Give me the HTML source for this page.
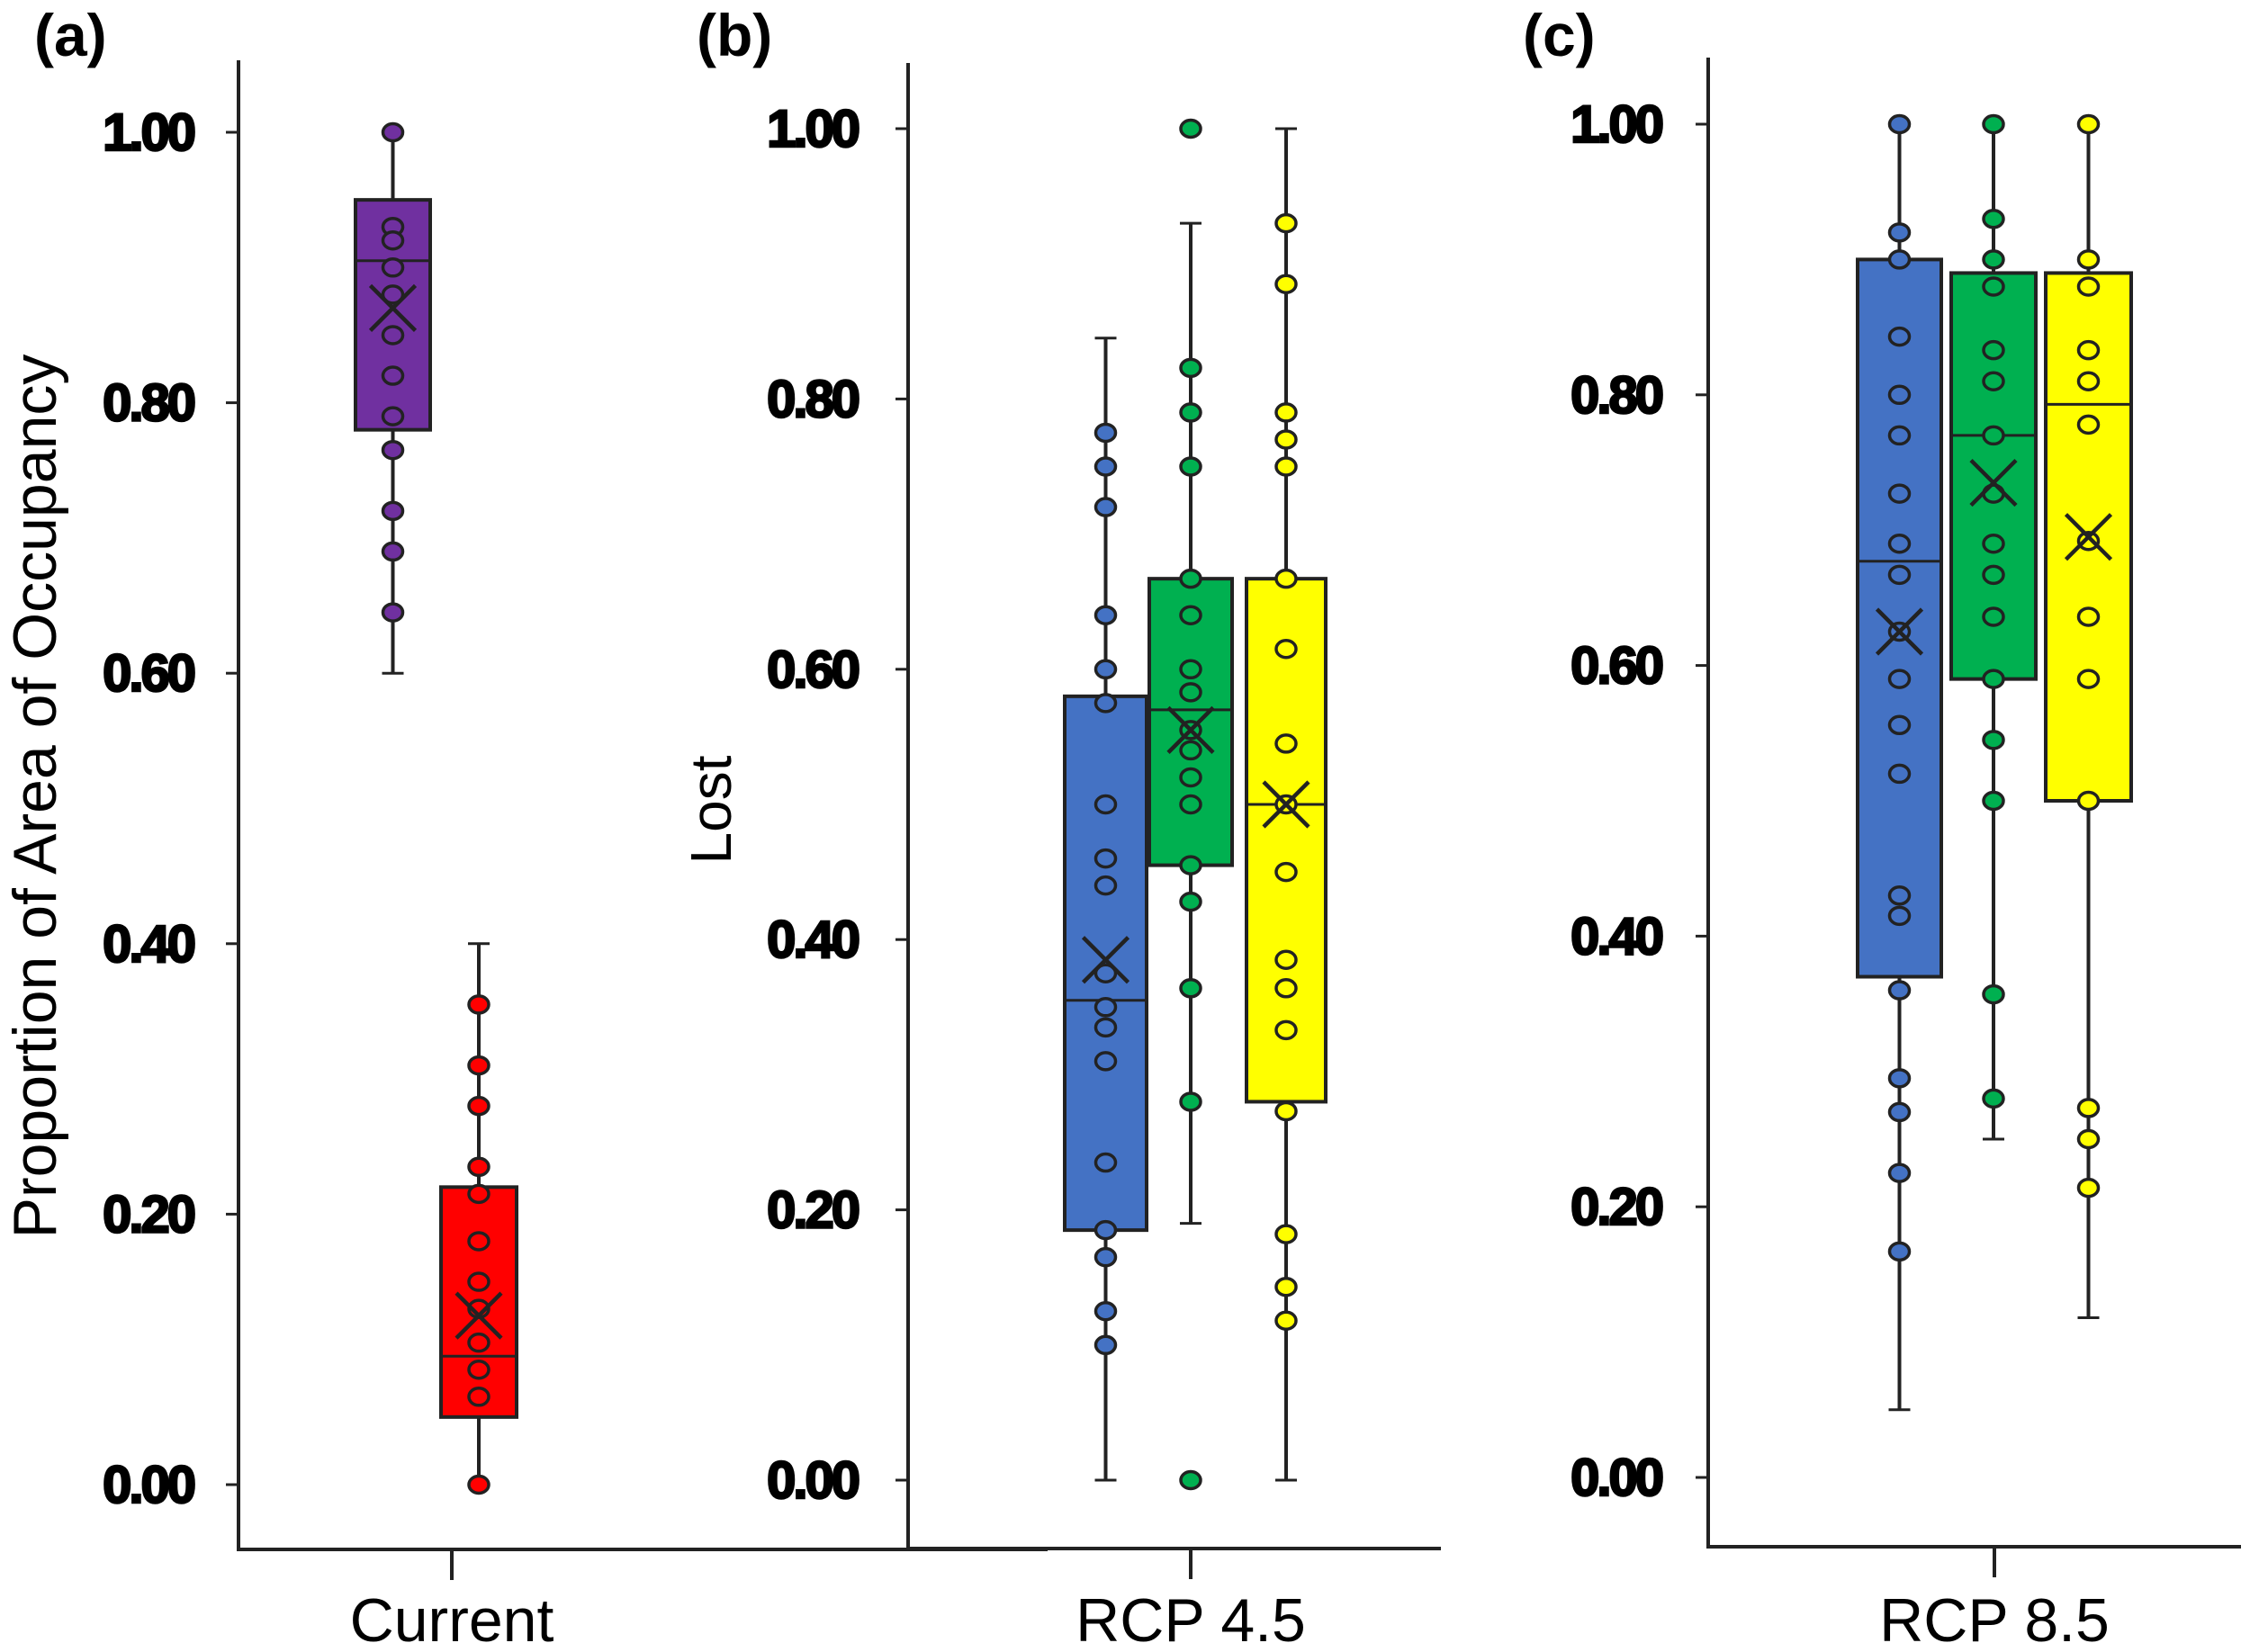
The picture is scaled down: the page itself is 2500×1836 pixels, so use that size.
<!DOCTYPE html>
<html><head><meta charset="utf-8"><style>
html,body{margin:0;padding:0;background:#fff;}
svg{display:block;}
text{font-family:"Liberation Sans",Arial,sans-serif;}
.tick{font-weight:bold;font-size:58px;letter-spacing:-3px;stroke:#000;stroke-width:2.5px;}
</style></head><body>
<svg id="chart" width="2500" height="1836" viewBox="0 0 2500 1836" xmlns="http://www.w3.org/2000/svg"></svg>
<script>
const tickValues=[0,0.2,0.4,0.6,0.8,1.0];
const tickLabels=["0.00","0.20","0.40","0.60","0.80","1.00"];
const panelLabels=["(a)","(b)","(c)"];
const categoryLabels=["Current","RCP 4.5","RCP 8.5"];
// box stats: [whiskerLow, q1, median, q3, whiskerHigh, mean]
const aPurpleStats=[0.60,0.78,0.905,0.95,1.00,0.87];
const aPurplePts=[1.00,0.93,0.92,0.90,0.88,0.85,0.82,0.79,0.765,0.72,0.69,0.645];
const aRedStats=[0.00,0.05,0.095,0.22,0.40,0.125];
const aRedPts=[0.355,0.31,0.28,0.235,0.215,0.18,0.15,0.13,0.105,0.085,0.065,0.00];
const bBlueStats=[0.00,0.185,0.355,0.58,0.845,0.385];
const bBluePts=[0.775,0.75,0.72,0.64,0.60,0.575,0.50,0.46,0.44,0.375,0.35,0.335,0.31,0.235,0.185,0.165,0.125,0.10];
const bGreenStats=[0.19,0.455,0.57,0.667,0.93,0.555];
const bGreenPts=[1.00,0.823,0.79,0.75,0.667,0.64,0.60,0.583,0.555,0.54,0.52,0.50,0.455,0.428,0.364,0.28,0.00];
const bYellowStats=[0.00,0.28,0.50,0.667,1.00,0.50];
const bYellowPts=[0.93,0.885,0.79,0.77,0.75,0.667,0.615,0.545,0.50,0.45,0.385,0.364,0.333,0.273,0.182,0.143,0.118];
const cBlueStats=[0.05,0.37,0.677,0.90,1.00,0.625];
const cBluePts=[1.00,0.92,0.90,0.843,0.80,0.77,0.727,0.69,0.667,0.625,0.59,0.556,0.52,0.43,0.415,0.36,0.295,0.27,0.225,0.167];
const cGreenStats=[0.25,0.59,0.77,0.89,1.00,0.735];
const cGreenPts=[1.00,0.93,0.90,0.88,0.833,0.81,0.77,0.727,0.69,0.667,0.636,0.59,0.545,0.50,0.357,0.28];
const cYellowStats=[0.118,0.50,0.793,0.89,1.00,0.695];
const cYellowPts=[1.00,0.90,0.88,0.833,0.81,0.778,0.692,0.636,0.59,0.50,0.273,0.25,0.214];

const NS="http://www.w3.org/2000/svg";
const svg=document.getElementById('chart');
function mk(tag,attrs,parent,txt){const e=document.createElementNS(NS,tag);for(const k in attrs)e.setAttribute(k,attrs[k]);if(txt!==undefined)e.textContent=txt;(parent||svg).appendChild(e);return e;}

const panels=[
 {ax:265,top:67,bot:1722,right:1164,y1:147,y0:1650,lblEnd:215,tickX:502,plx:38,cat:0,ytitle:"Proportion of Area of Occupancy",ytx:40,yty:885,ytsize:68,
  boxes:[{s:aPurpleStats,p:aPurplePts,c:"#7030a0",x0:395,x1:478,name:"current-box-purple"},{s:aRedStats,p:aRedPts,c:"#ff0000",x0:490,x1:574,name:"current-box-red"}]},
 {ax:1009,top:70,bot:1721,right:1601,y1:143,y0:1645,lblEnd:953,tickX:1323,plx:774,cat:1,ytitle:"Lost",ytx:790,yty:900,ytsize:64,
  boxes:[{s:bBlueStats,p:bBluePts,c:"#4472c4",x0:1183,x1:1274,name:"rcp45-box-blue"},{s:bGreenStats,p:bGreenPts,c:"#00b050",x0:1277,x1:1369,name:"rcp45-box-green"},{s:bYellowStats,p:bYellowPts,c:"#ffff00",x0:1385,x1:1473,name:"rcp45-box-yellow"}]},
 {ax:1898,top:64,bot:1719,right:2490,y1:138,y0:1642,lblEnd:1846,tickX:2216,plx:1692,cat:2,ytitle:null,
  boxes:[{s:cBlueStats,p:cBluePts,c:"#4472c4",x0:2064,x1:2157,name:"rcp85-box-blue"},{s:cGreenStats,p:cGreenPts,c:"#00b050",x0:2168,x1:2262,name:"rcp85-box-green"},{s:cYellowStats,p:cYellowPts,c:"#ffff00",x0:2273,x1:2368,name:"rcp85-box-yellow"}]}
];

panels.forEach((P,pi)=>{
  const g=mk('g',{});
  
  
  const y=v=>P.y0+(P.y1-P.y0)*v;
  const pl=mk('text',{x:P.plx,y:62,'font-size':66,'font-weight':'bold'},g,panelLabels[pi]);
  
  
  const yax=mk('line',{x1:P.ax,y1:P.top,x2:P.ax,y2:P.bot,stroke:'#222','stroke-width':4},g);
  
  
  const xax=mk('line',{x1:P.ax-2,y1:P.bot,x2:P.right,y2:P.bot,stroke:'#222','stroke-width':4},g);
  
  
  tickValues.forEach((v,i)=>{
    const tl=mk('line',{x1:P.ax-14,y1:y(v),x2:P.ax,y2:y(v),stroke:'#222','stroke-width':3},g);
    
    
    const t=mk('text',{x:P.lblEnd,y:y(v)+20,'text-anchor':'end',class:'tick'},g,tickLabels[i]);
    
    
  });
  const xt=mk('line',{x1:P.tickX,y1:P.bot,x2:P.tickX,y2:P.bot+34,stroke:'#222','stroke-width':4},g);
  
  
  const xl=mk('text',{x:P.tickX,y:1824,'text-anchor':'middle','font-size':68},g,categoryLabels[P.cat]);
  
  
  if(P.ytitle){
    const yt=mk('text',{x:P.ytx,y:P.yty,'text-anchor':'middle','font-size':P.ytsize,transform:`rotate(-90 ${P.ytx} ${P.yty})`,dy:22},g,P.ytitle);
    
    
  }
  P.boxes.forEach(B=>{
    const bg=mk('g',{},g);
    
    
    const cx=(B.x0+B.x1)/2, s=B.s;
    mk('line',{x1:cx,y1:y(s[0]),x2:cx,y2:y(s[4]),stroke:'#222','stroke-width':4},bg);
    mk('line',{x1:cx-12,y1:y(s[0]),x2:cx+12,y2:y(s[0]),stroke:'#222','stroke-width':3},bg);
    mk('line',{x1:cx-12,y1:y(s[4]),x2:cx+12,y2:y(s[4]),stroke:'#222','stroke-width':3},bg);
    mk('rect',{x:B.x0,y:y(s[3]),width:B.x1-B.x0,height:y(s[1])-y(s[3]),fill:B.c,stroke:'#222','stroke-width':4},bg);
    mk('line',{x1:B.x0,y1:y(s[2]),x2:B.x1,y2:y(s[2]),stroke:'#222','stroke-width':3},bg);
    B.p.forEach(v=>{
      const c=mk('ellipse',{cx:cx,cy:y(v),rx:11,ry:9.5,fill:B.c,stroke:'#222','stroke-width':3.5},bg);
      
      
    });
    const my=y(s[5]), d=25;
    const m=mk('path',{d:`M${cx-d} ${my-d}L${cx+d} ${my+d}M${cx-d} ${my+d}L${cx+d} ${my-d}`,stroke:'#222','stroke-width':4.5,fill:'none'},bg);
    
    
  });
});
</script>
</body></html>
